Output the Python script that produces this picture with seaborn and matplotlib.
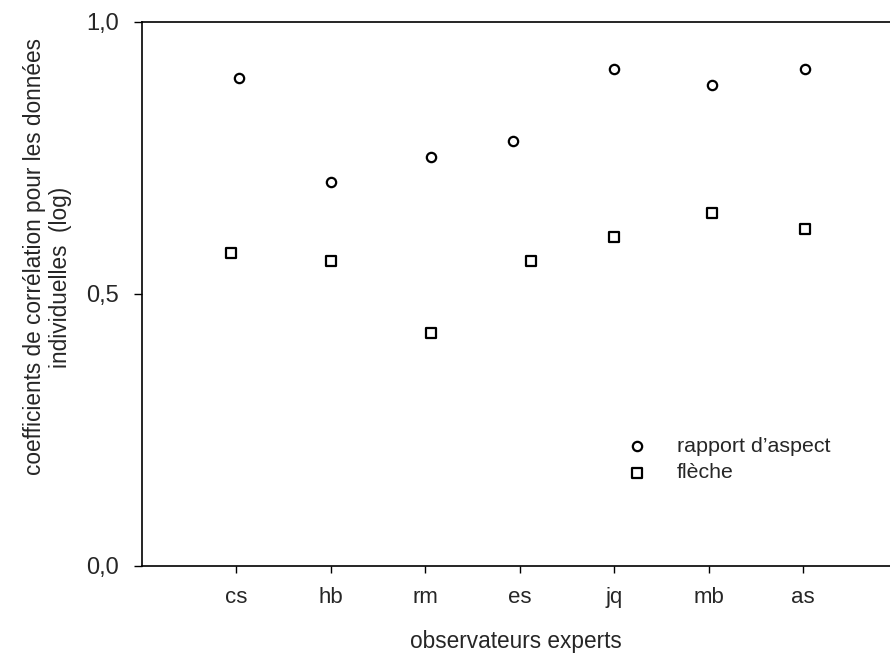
import numpy as np
import pandas as pd
import matplotlib
matplotlib.use("Agg")
import matplotlib.pyplot as plt
import seaborn as sns

# observers and correlation values
observateurs = ["cs", "hb", "rm", "es", "jq", "mb", "as"]
rapport_aspect = [0.896, 0.706, 0.751, 0.781, 0.913, 0.884, 0.913]
fleche = [0.575, 0.560, 0.428, 0.560, 0.604, 0.648, 0.619]
# small horizontal shift of each point from its tick (fraction of a category)
decalage_rapport = [0.03, 0.0, 0.06, -0.07, 0.0, 0.04, 0.02]
decalage_fleche = [-0.05, 0.0, 0.06, 0.12, 0.0, 0.04, 0.02]

pos = np.arange(len(observateurs))
df_r = pd.DataFrame({"x": pos + np.array(decalage_rapport), "y": rapport_aspect})
df_f = pd.DataFrame({"x": pos + np.array(decalage_fleche), "y": fleche})

sns.set_style("ticks")
plt.rcParams["font.family"] = ["Liberation Sans", "DejaVu Sans"]

fig = plt.figure(figsize=(8.9, 6.58), dpi=100)
ax = fig.add_axes([0.159, 0.14, 0.841, 0.8267])

sns.scatterplot(data=df_r, x="x", y="y", ax=ax, marker="o", s=45,
                facecolor="white", edgecolor="black", linewidth=1.6,
                label="rapport d\u2019aspect")
sns.scatterplot(data=df_f, x="x", y="y", ax=ax, marker="s", s=45,
                facecolor="white", edgecolor="black", linewidth=1.6,
                label="fl\u00e8che")

ax.set_xlim(-1, 6.92)
ax.set_ylim(0, 1.0)
ax.set_xticks(pos)
ax.set_xticklabels(observateurs)
ax.set_yticks([0, 0.5, 1.0])
ax.set_yticklabels(["0,0", "0,5", "1,0"])
ax.tick_params(axis="x", length=5, width=1, pad=10, labelsize=16, color="black")
ax.tick_params(axis="y", length=6, width=1, pad=10, labelsize=17, color="black")

for side in ["left", "bottom", "top"]:
    ax.spines[side].set_visible(True)
    ax.spines[side].set_color("black")
    ax.spines[side].set_linewidth(1.2)
ax.spines["right"].set_visible(False)

ax.set_xlabel("observateurs experts", fontsize=16.3, labelpad=16)

# y label: two lines, the second one sits a little lower than centred
ax.set_ylabel("coefficients de corr\u00e9lation pour les donn\u00e9es", fontsize=16.3)
ax.yaxis.set_label_coords(-0.127, 0.568)
ax.text(-0.108, 0.53, "individuelles  (log)", transform=ax.transAxes,
        rotation=90, ha="center", va="center", fontsize=16.3, clip_on=False)

ax.legend(frameon=False, loc="upper left", bbox_to_anchor=(0.704, 0.336),
          bbox_transform=fig.transFigure, fontsize=15.4, borderpad=0,
          borderaxespad=0, handlelength=1.0, handletextpad=1.35,
          labelspacing=0.35)

fig.savefig("out.png", dpi=100)
